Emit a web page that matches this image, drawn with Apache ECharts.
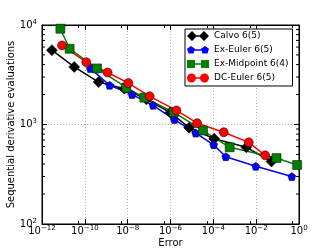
<!DOCTYPE html>
<html>
<head>
<meta charset="utf-8">
<script src="https://cdn.jsdelivr.net/npm/echarts@6/dist/echarts.min.js"></script>
<style>html,body{margin:0;padding:0;background:#fff}#c{width:332px;height:249px}</style>
</head>
<body>
<div id="c"></div>
<script>
// ---- data ----
const seriesNames = ['Calvo 6(5)', 'Ex-Euler 6(5)', 'Ex-Midpoint 6(4)', 'DC-Euler 6(5)'];
const calvoErr   = [2.9e-12, 3.2e-11, 4.4e-10, 7.0e-9, 7.5e-8, 9.9e-7, 7.4e-6, 1.1e-4, 3.5e-3, 5.2e-2];
const calvoEvals = [5590, 3790, 2670, 2290, 1790, 1320, 930, 720, 590, 425];
const exEulerErr   = [1.8e-10, 1.44e-9, 1.6e-8, 1.54e-7, 1.52e-6, 1.51e-5, 1.04e-4, 3.8e-4, 9.6e-3, 0.46];
const exEulerEvals = [3660, 2480, 2000, 1560, 1120, 820, 625, 475, 380, 300];
const exMidErr   = [7.2e-12, 1.95e-11, 3.7e-10, 8.7e-9, 6.0e-8, 1.41e-6, 3.3e-5, 5.8e-4, 8.9e-2, 0.82];
const exMidEvals = [9180, 5770, 3660, 2350, 1860, 1330, 870, 590, 460, 392];
const dcEulerErr   = [8.6e-12, 1.17e-10, 1.16e-9, 1.08e-8, 1.07e-7, 1.89e-6, 1.75e-5, 3.06e-4, 4.5e-3, 2.64e-2];
const dcEulerEvals = [6240, 4230, 3330, 2610, 1920, 1385, 1030, 836, 662, 490];
const yMinorTicks = [200, 300, 400, 500, 600, 700, 800, 900, 2000, 3000, 4000, 5000, 6000, 7000, 8000, 9000];

function pairs(xs, ys) { return xs.map((x, i) => [x, ys[i]]); }

const FONT = 'DejaVu Sans';
const pent = 'path://M5 0 L9.755 3.455 L7.939 9.045 L2.061 9.045 L0.245 3.455 Z';
const icons = [
  'path://M0 5 L5 0 L10 5 L5 10 Z M5 4.3 L17 4.3 L17 5.7 L5 5.7 Z M12 5 L17 0 L22 5 L17 10 Z',
  'path://M0 3.8 L4 1 L8 3.8 L6.5 8.6 L1.5 8.6 Z M4 4.3 L18 4.3 L18 5.7 L4 5.7 Z M14 3.8 L18 1 L22 3.8 L20.5 8.6 L15.5 8.6 Z M0 0 L0.01 0 Z M22 10 L22.01 10 Z',
  'path://M0 1 L8 1 L8 9 L0 9 Z M8 4.3 L14 4.3 L14 5.7 L8 5.7 Z M14 1 L22 1 L22 9 L14 9 Z M0 0 L0.01 0 Z M22 10 L22.01 10 Z',
  'path://M0 5 A4.5 4.5 0 1 1 9 5 A4.5 4.5 0 1 1 0 5 Z M4.5 4.3 L17.5 4.3 L17.5 5.7 L4.5 5.7 Z M13 5 A4.5 4.5 0 1 1 22 5 A4.5 4.5 0 1 1 13 5 Z M0 0 L0.01 0 Z M22 10 L22.01 10 Z'
];

function powLabel(v) {
  const e = Math.round(Math.log10(v));
  const s = e < 0 ? '\u2212' + (-e) : String(e);
  return '{b|10}{s|' + s + '}';
}
const rich = {
  b: { fontFamily: FONT, fontSize: 10, color: '#000', lineHeight: 13 },
  s: { fontFamily: FONT, fontSize: 7, color: '#000', verticalAlign: 'top', lineHeight: 8 }
};

const chart = echarts.init(document.getElementById('c'), null, { renderer: 'canvas' });
const lineSeries = (name, data, color, symbol, size) => ({
  name, type: 'line', data, symbol, symbolSize: size,
  lineStyle: { color, width: 1.5 },
  itemStyle: { color, borderColor: '#000', borderWidth: 0.5 },
  emphasis: { disabled: true }, animation: false
});

chart.setOption({
  animation: false,
  grid: { left: 42, right: 33, top: 25, bottom: 25, containLabel: false, outerBoundsMode: 'none',
          show: true, borderColor: '#000', borderWidth: 1 },
  legend: {
    data: seriesNames.map((n, i) => ({ name: n, icon: icons[i] })),
    orient: 'vertical', left: 185, top: 29,
    itemWidth: 22, itemHeight: 10, itemGap: 4, itemTextGap: 5,
    padding: [2, 4, 3, 2],
    backgroundColor: '#fff', borderColor: '#000', borderWidth: 1,
    itemStyle: { borderWidth: 0 },
    textStyle: { fontFamily: FONT, fontSize: 9, color: '#000' }
  },
  xAxis: [{
    type: 'log', logBase: 10, min: 1e-12, max: 1, interval: 2,
    name: 'Error', nameLocation: 'middle', nameGap: 14, nameMoveOverlap: false,
    nameTextStyle: { fontFamily: FONT, fontSize: 10, color: '#000', verticalAlign: 'top' },
    axisLine: { show: true, lineStyle: { color: '#000', width: 1 } },
    axisTick: { show: true, inside: true, length: 5, lineStyle: { color: '#000' } },
    minorTick: { show: true, splitNumber: 2, length: 3, lineStyle: { color: '#000' } },
    axisLabel: { formatter: powLabel, rich, margin: 1, showMinLabel: true, showMaxLabel: true, hideOverlap: false },
    splitLine: { show: true, lineStyle: { color: '#b0b0b0', type: [1, 2], width: 1 } }
  }, {
    type: 'log', logBase: 10, min: 1e-12, max: 1, interval: 2, position: 'top',
    axisLine: { show: true, lineStyle: { color: '#000' } },
    axisTick: { show: true, inside: true, length: 5, lineStyle: { color: '#000' } },
    minorTick: { show: true, splitNumber: 2, length: 3, lineStyle: { color: '#000' } },
    axisLabel: { show: false }, splitLine: { show: false }
  }],
  yAxis: [{
    type: 'log', logBase: 10, min: 100, max: 10000, interval: 1,
    name: 'Sequential derivative evaluations', nameLocation: 'middle', nameGap: 26, nameMoveOverlap: false,
    nameTextStyle: { fontFamily: FONT, fontSize: 10, color: '#000' },
    axisLine: { show: true, lineStyle: { color: '#000', width: 1 } },
    axisTick: { show: true, inside: true, length: 5, lineStyle: { color: '#000' } },
    axisLabel: { formatter: powLabel, rich, margin: 5, hideOverlap: false },
    splitLine: { show: true, lineStyle: { color: '#b0b0b0', type: [1, 2], width: 1 } }
  }, {
    type: 'log', logBase: 10, min: 100, max: 10000, interval: 1, position: 'right',
    axisLine: { show: true, lineStyle: { color: '#000' } },
    axisTick: { show: true, inside: true, length: 5, lineStyle: { color: '#000' } },
    axisLabel: { show: false }, splitLine: { show: false }
  }],
  series: [
    {
      type: 'custom', silent: true, xAxisIndex: 0, yAxisIndex: 0,
      data: yMinorTicks.map(v => [1e-12, v]),
      renderItem: function (params, api) {
        const v = api.value(1);
        const pL = api.coord([1e-12, v]);
        const pR = api.coord([1, v]);
        return { type: 'group', children: [
          { type: 'line', shape: { x1: pL[0], y1: pL[1], x2: pL[0] + 3, y2: pL[1] }, style: { stroke: '#000', lineWidth: 1 } },
          { type: 'line', shape: { x1: pR[0] - 3, y1: pR[1], x2: pR[0], y2: pR[1] }, style: { stroke: '#000', lineWidth: 1 } }
        ] };
      }
    },
    lineSeries(seriesNames[0], pairs(calvoErr, calvoEvals), '#000000', 'diamond', 11),
    lineSeries(seriesNames[1], pairs(exEulerErr, exEulerEvals), '#0000ff', pent, 8),
    lineSeries(seriesNames[2], pairs(exMidErr, exMidEvals), '#008000', 'rect', 9),
    lineSeries(seriesNames[3], pairs(dcEulerErr, dcEulerEvals), '#ff0000', 'circle', 9)
  ]
});
</script>
</body>
</html>
